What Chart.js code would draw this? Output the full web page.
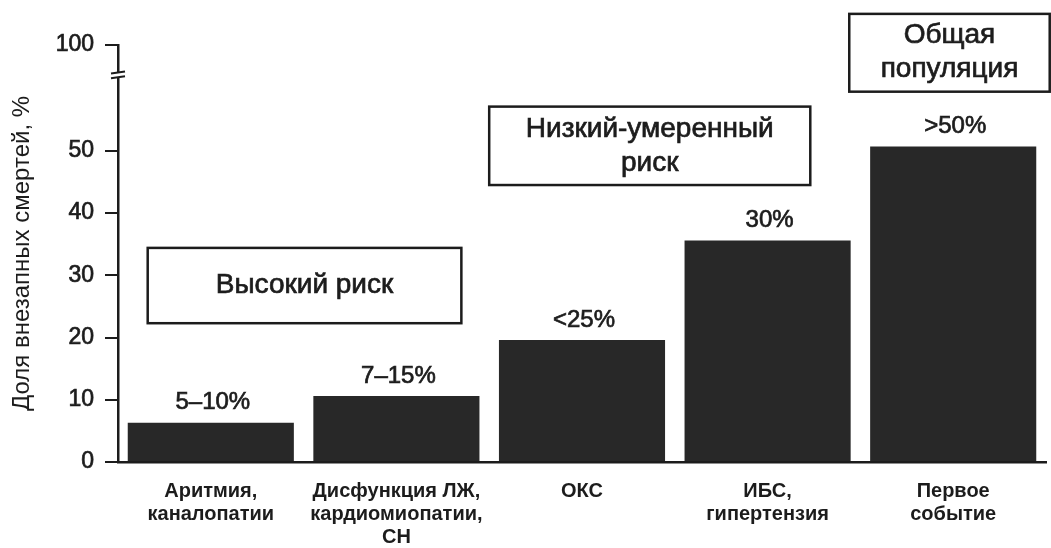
<!DOCTYPE html>
<html>
<head>
<meta charset="utf-8">
<script src="https://cdn.jsdelivr.net/npm/chart.js@4/dist/chart.umd.min.js"></script>
<style>
  html, body { margin: 0; padding: 0; background: #fff; }
  #wrap { width: 1051px; height: 548px; }
</style>
</head>
<body>
<div id="wrap"><canvas id="riskChart" width="1051" height="548"></canvas></div>
<script>
// data
const categories = [
  ['Аритмия,', 'каналопатии'],
  ['Дисфункция ЛЖ,', 'кардиомиопатии,', 'СН'],
  ['ОКС'],
  ['ИБС,', 'гипертензия'],
  ['Первое', 'событие']
];
const values = [6.3, 10.6, 19.6, 35.6, 50.7];
const valueLabels = ['5–10%', '7–15%', '<25%', '30%', '>50%'];

// broken axis: the top tick stands for 100
const yTicks = [0, 10, 20, 30, 40, 50, 67];
const yTickLabels = ['0', '10', '20', '30', '40', '50', '100'];
const breakValues = [62.6, 61.8];

// risk group boxes, x in category units, y in axis units
const groups = [
  { lines: ['Высокий риск'], x0: -0.34, x1: 1.35, y0: 22.3, y1: 34.4 },
  { lines: ['Низкий-умеренный', 'риск'], x0: 1.50, x1: 3.23, y0: 44.5, y1: 57.1 },
  { lines: ['Общая', 'популяция'], x0: 3.44, x1: 4.52, y0: 59.5, y1: 72.0 }
];

const ink = '#1c1c1c';
const fontFam = '"Liberation Sans", Arial, Helvetica, sans-serif';

function heavyText(ctx, s, x, y) {
  ctx.strokeText(s, x, y);
  ctx.fillText(s, x, y);
}

const extras = {
  id: 'extras',
  afterDatasetsDraw(chart) {
    const ctx = chart.ctx;
    const xs = chart.scales.x, ys = chart.scales.y;
    const meta = chart.getDatasetMeta(0);
    ctx.save();
    ctx.fillStyle = ink;
    ctx.strokeStyle = ink;
    ctx.lineWidth = 0.7;
    ctx.font = '24px ' + fontFam;
    ctx.textAlign = 'center';
    ctx.textBaseline = 'middle';
    meta.data.forEach((bar, i) => {
      heavyText(ctx, valueLabels[i], bar.x + 2, bar.y - 20);
    });

    // boxes
    ctx.font = '28px ' + fontFam;
    groups.forEach(g => {
      const l = xs.getPixelForValue(g.x0), r = xs.getPixelForValue(g.x1);
      const t = ys.getPixelForValue(g.y1), b = ys.getPixelForValue(g.y0);
      ctx.fillStyle = '#fff';
      ctx.fillRect(l, t, r - l, b - t);
      ctx.lineWidth = 2.5;
      ctx.strokeRect(l, t, r - l, b - t);
      ctx.fillStyle = ink;
      ctx.lineWidth = 0.7;
      const lh = 34;
      const cy = (t + b) / 2 - (g.lines.length - 1) * lh / 2;
      g.lines.forEach((s, k) => heavyText(ctx, s, (l + r) / 2, cy + k * lh));
    });

    // axis break
    const ax = ys.right;
    const yA = ys.getPixelForValue(breakValues[0]);
    const yB = ys.getPixelForValue(breakValues[1]);
    ctx.fillStyle = '#fff';
    ctx.fillRect(ax - 3, yA, 6, yB - yA);
    ctx.lineWidth = 2;
    ctx.beginPath();
    ctx.moveTo(ax - 7, yA + 1); ctx.lineTo(ax + 7, yA - 1);
    ctx.moveTo(ax - 7, yB + 1); ctx.lineTo(ax + 7, yB - 1);
    ctx.stroke();
    ctx.restore();
  }
};

const ctx = document.getElementById('riskChart').getContext('2d');
let riskChart = new Chart(ctx, {
  type: 'bar',
  data: {
    labels: categories,
    datasets: [{
      data: values,
      backgroundColor: '#282828',
      borderWidth: 0,
      barPercentage: 0.895,
      categoryPercentage: 1.0
    }]
  },
  options: {
    responsive: false,
    animation: false,
    layout: { padding: { left: 0, top: 45, right: 5, bottom: 0 } },
    plugins: {
      legend: { display: false },
      tooltip: { enabled: false }
    },
    scales: {
      x: {
        grid: { display: true, drawOnChartArea: false, drawTicks: false },
        border: { display: true, color: ink, width: 2.5 },
        ticks: {
          color: ink,
          padding: 18,
          maxRotation: 0,
          autoSkip: false,
          font: { family: fontFam, size: 20, weight: 'bold', lineHeight: 1.15 }
        },
        afterFit(scale) { scale.height = 86; }
      },
      y: {
        min: 0,
        max: 67,
        afterBuildTicks(scale) {
          scale.ticks = yTicks.map(v => ({ value: v }));
        },
        grid: { drawOnChartArea: false, drawTicks: true, tickLength: 13, color: ink, lineWidth: 2 },
        border: { display: true, color: ink, width: 2.5 },
        ticks: {
          color: ink,
          padding: 11,
          textStrokeColor: ink,
          textStrokeWidth: 0.7,
          font: { family: fontFam, size: 23 },
          callback: (v, i) => yTickLabels[i]
        },
        title: {
          display: true,
          text: 'Доля внезапных смертей, %',
          color: ink,
          padding: { top: 8, bottom: 0 },
          font: { family: fontFam, size: 24 }
        },
        afterFit(scale) { scale.width = 118; }
      }
    }
  },
  plugins: [extras]
});
</script>
</body>
</html>
